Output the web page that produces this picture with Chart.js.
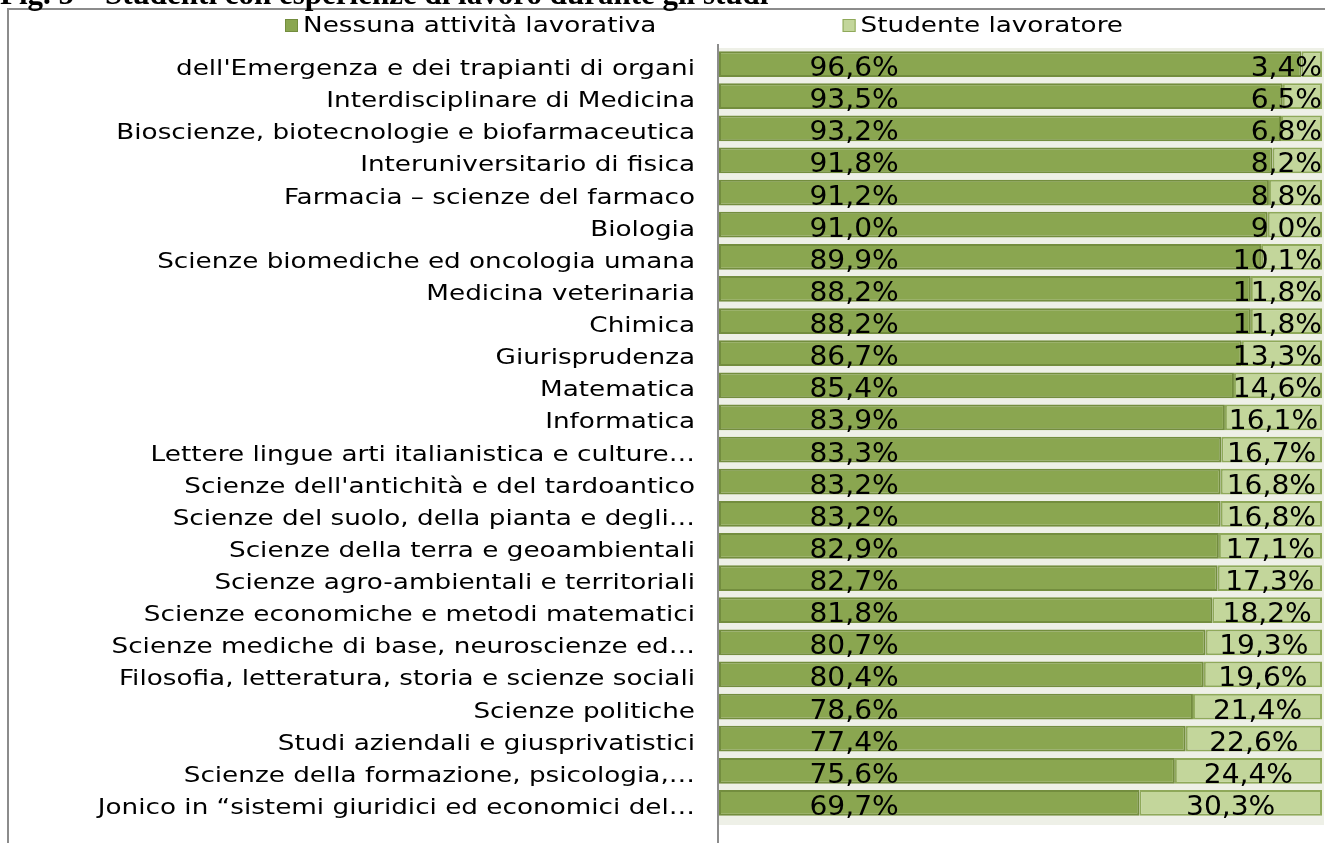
<html>
    <head>
        <meta charset="UTF-8">
        <title>Fig. 5 - Studenti con esperienze di lavoro</title>

        <script src="https://cdn.jsdelivr.net/npm/chart.js"></script>

        <style>
            html, body {
                margin: 0;
                padding: 0;
                background: #ffffff;
                overflow: hidden;
            }

            .chart_container {
                position: absolute;
                left: 0;
                top: 0;
                width: 1325px;
                height: 843px;
            }
        </style>
    </head>

    <body>
        <div class='chart_container'>
            <canvas id='lavoro'></canvas>
        </div>

        <script>
            const titleText = 'Fig. 5 \u2013 Studenti con esperienze di lavoro durante gli studi';

            const dipartimenti = [
                "dell'Emergenza e dei trapianti di organi",
                'Interdisciplinare di Medicina',
                'Bioscienze, biotecnologie e biofarmaceutica',
                'Interuniversitario di fisica',
                'Farmacia \u2013 scienze del farmaco',
                'Biologia',
                'Scienze biomediche ed oncologia umana',
                'Medicina veterinaria',
                'Chimica',
                'Giurisprudenza',
                'Matematica',
                'Informatica',
                'Lettere lingue arti italianistica e culture\u2026',
                "Scienze dell'antichit\u00e0 e del tardoantico",
                'Scienze del suolo, della pianta e degli\u2026',
                'Scienze della terra e geoambientali',
                'Scienze agro-ambientali e territoriali',
                'Scienze economiche e metodi matematici',
                'Scienze mediche di base, neuroscienze ed\u2026',
                'Filosofia, letteratura, storia e scienze sociali',
                'Scienze politiche',
                'Studi aziendali e giusprivatistici',
                'Scienze della formazione, psicologia,\u2026',
                'Jonico in \u201csistemi giuridici ed economici del\u2026'
            ];

            const nessunaAttivita = [96.6, 93.5, 93.2, 91.8, 91.2, 91.0, 89.9, 88.2, 88.2, 86.7, 85.4, 83.9,
                                     83.3, 83.2, 83.2, 82.9, 82.7, 81.8, 80.7, 80.4, 78.6, 77.4, 75.6, 69.7];
            const lavoratore = [3.4, 6.5, 6.8, 8.2, 8.8, 9.0, 10.1, 11.8, 11.8, 13.3, 14.6, 16.1,
                                16.7, 16.8, 16.8, 17.1, 17.3, 18.2, 19.3, 19.6, 21.4, 22.6, 24.4, 30.3];

            const serieNomi = ['Nessuna attivit\u00e0 lavorativa', 'Studente lavoratore'];
            const verde = '#8aa650';
            const verdeBordo = '#738d3e';
            const chiaro = '#c3d69b';
            const chiaroBordo = '#8fa95a';

            function fmt(v) {
                return v.toFixed(1).replace('.', ',') + '%';
            }

            // text drawn a bit wider, like the original export
            function stretchText(ctx, text, x, y, align, k) {
                ctx.save();
                ctx.translate(x, y);
                ctx.scale(k, 1);
                ctx.textAlign = align;
                ctx.fillText(text, 0, 0);
                ctx.restore();
            }

            const decorPlugin = {
                id: 'decor',
                beforeDatasetsDraw(chart) {
                    const ctx = chart.ctx;
                    const a = chart.chartArea;
                    ctx.save();
                    ctx.fillStyle = '#eef0e7';
                    ctx.fillRect(a.left, a.top, a.right - a.left + 2, a.bottom - a.top + 6);
                    ctx.restore();
                },
                afterDraw(chart) {
                    const ctx = chart.ctx;
                    const a = chart.chartArea;
                    const yScale = chart.scales.y;
                    const xScale = chart.scales.x;

                    ctx.save();

                    // frame
                    ctx.strokeStyle = '#8c8c8c';
                    ctx.lineWidth = 2;
                    ctx.beginPath();
                    ctx.moveTo(8, chart.height);
                    ctx.lineTo(8, 9);
                    ctx.lineTo(chart.width, 9);
                    ctx.stroke();

                    // axis line
                    ctx.beginPath();
                    ctx.moveTo(a.left - 1, a.top - 4);
                    ctx.lineTo(a.left - 1, chart.height);
                    ctx.stroke();

                    // title (cut off at top)
                    ctx.fillStyle = '#000000';
                    ctx.font = 'bold 31px "Liberation Serif"';
                    ctx.textBaseline = 'alphabetic';
                    stretchText(ctx, titleText, 0, 4, 'left', 1.0);

                    // legend, same type as the category labels
                    const k = 1.25;
                    ctx.font = '21px "DejaVu Sans"';
                    ctx.textBaseline = 'alphabetic';
                    const w2 = ctx.measureText(serieNomi[1]).width * k;
                    const legendPos = [285, 1123 - w2 - 18];
                    const legendCol = [[verde, verdeBordo], [chiaro, chiaroBordo]];
                    for (let i = 0; i < 2; i++) {
                        ctx.fillStyle = legendCol[i][0];
                        ctx.strokeStyle = legendCol[i][1];
                        ctx.lineWidth = 1;
                        ctx.fillRect(legendPos[i], 19, 13, 13);
                        ctx.strokeRect(legendPos[i] + 0.5, 19.5, 12, 12);
                        ctx.fillStyle = '#000000';
                        stretchText(ctx, serieNomi[i], legendPos[i] + 18, 32, 'left', k);
                    }

                    // category labels
                    ctx.fillStyle = '#000000';
                    dipartimenti.forEach((lab, i) => {
                        const y = yScale.getPixelForValue(i);
                        stretchText(ctx, lab, 695, y + 11, 'right', k);
                    });

                    // data labels
                    ctx.font = '27px "DejaVu Sans"';
                    const kd = 1.04;
                    dipartimenti.forEach((lab, i) => {
                        const y = yScale.getPixelForValue(i) + 12;
                        stretchText(ctx, fmt(nessunaAttivita[i]), xScale.getPixelForValue(22.4), y, 'center', kd);
                        const t2 = fmt(lavoratore[i]);
                        const wt = ctx.measureText(t2).width * kd;
                        let cx = xScale.getPixelForValue(nessunaAttivita[i] + lavoratore[i] / 2);
                        if (cx + wt / 2 > a.right) cx = a.right - wt / 2;
                        stretchText(ctx, t2, cx, y, 'center', kd);
                    });

                    ctx.restore();
                }
            };

            function createChart() {
                const ctx = document.getElementById('lavoro');
                const data = {
                    labels: dipartimenti,
                    datasets: [
                        {
                            label: serieNomi[0],
                            data: nessunaAttivita,
                            backgroundColor: verde,
                            borderColor: verdeBordo,
                            borderWidth: 2,
                            borderSkipped: false
                        },
                        {
                            label: serieNomi[1],
                            data: lavoratore,
                            backgroundColor: chiaro,
                            borderColor: chiaroBordo,
                            borderWidth: 2,
                            borderSkipped: false
                        }
                    ]
                };
                const config = {
                    type: 'bar',
                    data: data,
                    options: {
                        indexAxis: 'y',
                        responsive: false,
                        animation: false,
                        layout: {
                            padding: { top: 48, bottom: 24, left: 0, right: 3 }
                        },
                        datasets: {
                            bar: {
                                categoryPercentage: 1,
                                barPercentage: 0.8
                            }
                        },
                        plugins: {
                            legend: { display: false },
                            title: { display: false },
                            tooltip: { enabled: false }
                        },
                        scales: {
                            x: {
                                stacked: true,
                                min: 0,
                                max: 100,
                                display: false
                            },
                            y: {
                                stacked: true,
                                ticks: { display: false },
                                grid: { display: false },
                                border: { display: false },
                                afterFit(s) { s.width = 719; }
                            }
                        }
                    },
                    plugins: [decorPlugin]
                };
                new Chart(ctx, config);
            }

            const cv = document.getElementById('lavoro');
            cv.width = 1325;
            cv.height = 843;
            createChart();
        </script>
    </body>
</html>
